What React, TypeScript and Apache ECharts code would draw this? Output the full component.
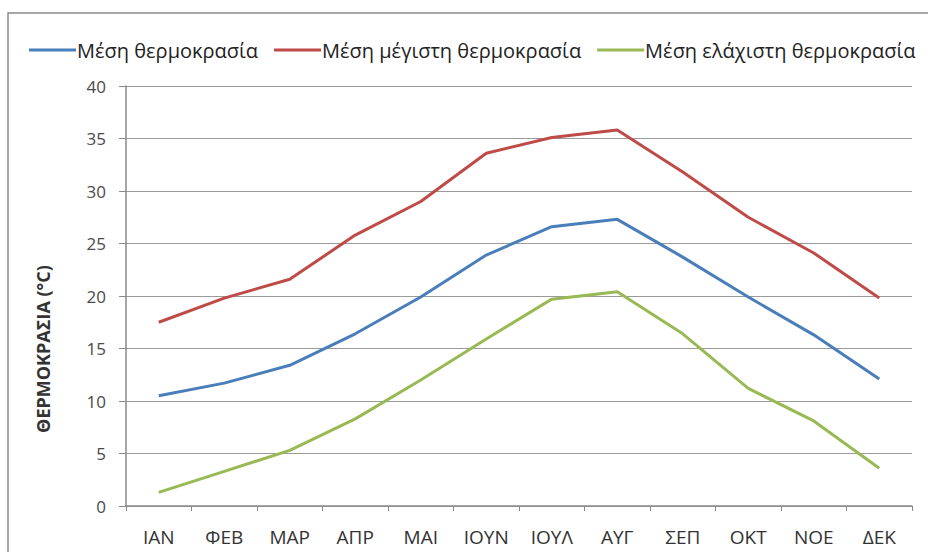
import React, { useEffect, useRef } from "react";
import * as echarts from "echarts";

const months = ["ΙΑΝ", "ΦΕΒ", "ΜΑΡ", "ΑΠΡ", "ΜΑΙ", "ΙΟΥΝ", "ΙΟΥΛ", "ΑΥΓ", "ΣΕΠ", "ΟΚΤ", "ΝΟΕ", "ΔΕΚ"];
const meanTemp = [10.5, 11.7, 13.4, 16.4, 19.9, 23.9, 26.6, 27.3, 23.7, 19.9, 16.3, 12.1];
const meanMax = [17.5, 19.8, 21.6, 25.8, 29.0, 33.6, 35.1, 35.8, 31.8, 27.5, 24.1, 19.8];
const meanMin = [1.3, 3.3, 5.3, 8.3, 12.0, 15.9, 19.7, 20.4, 16.4, 11.2, 8.1, 3.6];
const seriesNames = ["Μέση θερμοκρασία", "Μέση μέγιστη θερμοκρασία", "Μέση ελάχιστη θερμοκρασία"];
const yAxisTitle = "ΘΕΡΜΟΚΡΑΣΙΑ (°C)";

export default function App() {
  const ref = useRef<HTMLDivElement>(null);
  useEffect(() => {
    if (!ref.current) return;
    const chart = echarts.init(ref.current, null, { renderer: "svg" });
    const font = "'Open Sans', 'Noto Sans', sans-serif";
    const narrow = "'Liberation Sans Narrow', 'Open Sans', sans-serif";
    const mk = (name: string, data: number[], color: string) => ({
      name,
      type: "line",
      data,
      symbol: "none",
      smooth: false,
      lineStyle: { color, width: 3 },
      itemStyle: { color },
    });
    chart.setOption({
      animation: false,
      backgroundColor: "#ffffff",
      textStyle: { fontFamily: font },
      legend: {
        top: 35,
        left: 24,
        icon: "rect",
        itemWidth: 47,
        itemHeight: 3,
        itemGap: 16,
        textStyle: { fontFamily: font, fontSize: 20, color: "#222", padding: [0, 0, 0, -4] },
        data: seriesNames,
      },
      grid: { left: 126, right: 16, top: 86, bottom: 46 },
      xAxis: {
        type: "category",
        data: months,
        boundaryGap: true,
        axisLine: { lineStyle: { color: "#8a8a8a", width: 1.5 } },
        axisTick: { show: true, length: 5, lineStyle: { color: "#8a8a8a" } },
        axisLabel: { color: "#333", fontSize: 19, margin: 21, fontFamily: narrow },
      },
      yAxis: {
        type: "value",
        min: 0,
        max: 40,
        interval: 5,
        axisLine: { show: true, lineStyle: { color: "#8a8a8a", width: 1.5 } },
        axisTick: { show: true, length: 7, lineStyle: { color: "#8a8a8a" } },
        axisLabel: { color: "#4a4a4a", fontSize: 17, margin: 20 },
        splitLine: { lineStyle: { color: "#9a9a9a", width: 1.2 } },
      },
      graphic: [
        {
          type: "rect",
          shape: { x: 8, y: 13, width: 960, height: 600 },
          style: { fill: "none", stroke: "#8a8a8a", lineWidth: 1.5 },
          z: -1,
          silent: true,
        },
        {
          type: "text",
          x: 43,
          y: 349,
          rotation: Math.PI / 2,
          style: {
            text: yAxisTitle,
            fill: "#333",
            font: `bold 18px ${font}`,
            textAlign: "center",
            textVerticalAlign: "middle",
          },
        },
      ],
      series: [
        mk(seriesNames[0], meanTemp, "#4A7EBB"),
        mk(seriesNames[1], meanMax, "#BE4B48"),
        mk(seriesNames[2], meanMin, "#98B954"),
      ],
    });
    return () => chart.dispose();
  }, []);
  return <div ref={ref} style={{ width: 928, height: 552, position: "absolute", left: 0, top: 0 }} />;
}
